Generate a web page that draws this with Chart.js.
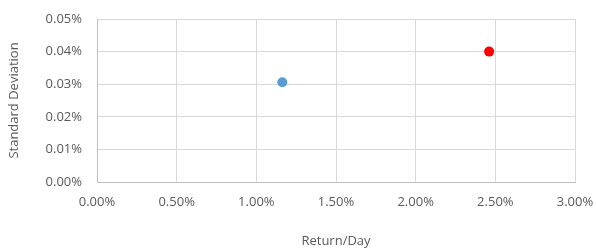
<!DOCTYPE html>
<html>
<head>
<meta charset="utf-8">
<script src="https://cdn.jsdelivr.net/npm/chart.js@4/dist/chart.umd.min.js"></script>
<style>
html,body{margin:0;padding:0;background:#fff;}
#wrap{width:596px;height:249px;position:relative;}
</style>
</head>
<body>
<div id="wrap"><canvas id="c" width="596" height="249"></canvas></div>
<script>
// Data (values in percent units)
const seriesNames = ['Series A', 'Series B'];
const returnPerDay = [1.163, 2.461];
const stdDeviation = [0.0306, 0.0400];
const pointColors = ['#5b9bd5', '#ff0000'];
const xTicks = [0, 0.5, 1, 1.5, 2, 2.5, 3];
const yTicks = [0, 0.01, 0.02, 0.03, 0.04, 0.05];

const FONT = "'Open Sans', 'Liberation Sans', sans-serif";
const TXT = '#595959';
const FS = 13;

const datasets = seriesNames.map((n, i) => ({
  label: n,
  data: [{x: returnPerDay[i], y: stdDeviation[i]}],
  backgroundColor: pointColors[i],
  borderColor: pointColors[i],
  borderWidth: 0,
  pointRadius: 5,
  pointHoverRadius: 5
}));

new Chart(document.getElementById('c'), {
  type: 'scatter',
  data: { datasets },
  options: {
    responsive: false,
    animation: false,
    devicePixelRatio: 1,
    layout: { padding: { left: 0, right: 21, top: 19, bottom: 0 } },
    plugins: { legend: { display: false }, tooltip: { enabled: false } },
    scales: {
      x: {
        type: 'linear',
        min: 0, max: 3,
        afterBuildTicks: s => { s.ticks = xTicks.map(v => ({value: v})); },
        afterFit: s => { s.height = 67; s.paddingRight = 0; s.paddingLeft = 0; },
        grid: { color: '#d9d9d9', lineWidth: 1, drawTicks: false },
        border: { color: '#bfbfbf', width: 1 },
        ticks: {
          padding: 12,
          color: TXT,
          font: { family: FONT, size: FS },
          maxRotation: 0,
          callback: v => v.toFixed(2) + '%'
        },
        title: {
          display: true,
          text: 'Return/Day',
          color: TXT,
          font: { family: FONT, size: FS },
          padding: { top: 0, bottom: 0 }
        }
      },
      y: {
        type: 'linear',
        min: 0, max: 0.05,
        afterBuildTicks: s => { s.ticks = yTicks.map(v => ({value: v})); },
        afterFit: s => { s.width = 97; s.paddingTop = 0; s.paddingBottom = 0; },
        grid: { color: '#d9d9d9', lineWidth: 1, drawTicks: false },
        border: { color: '#bfbfbf', width: 1 },
        ticks: {
          padding: 15,
          color: TXT,
          font: { family: FONT, size: FS },
          callback: v => v.toFixed(2) + '%'
        },
        title: {
          display: true,
          text: 'Standard Deviation',
          color: TXT,
          font: { family: FONT, size: FS },
          padding: { top: 6, bottom: 0 }
        }
      }
    }
  }
});
</script>
</body>
</html>
